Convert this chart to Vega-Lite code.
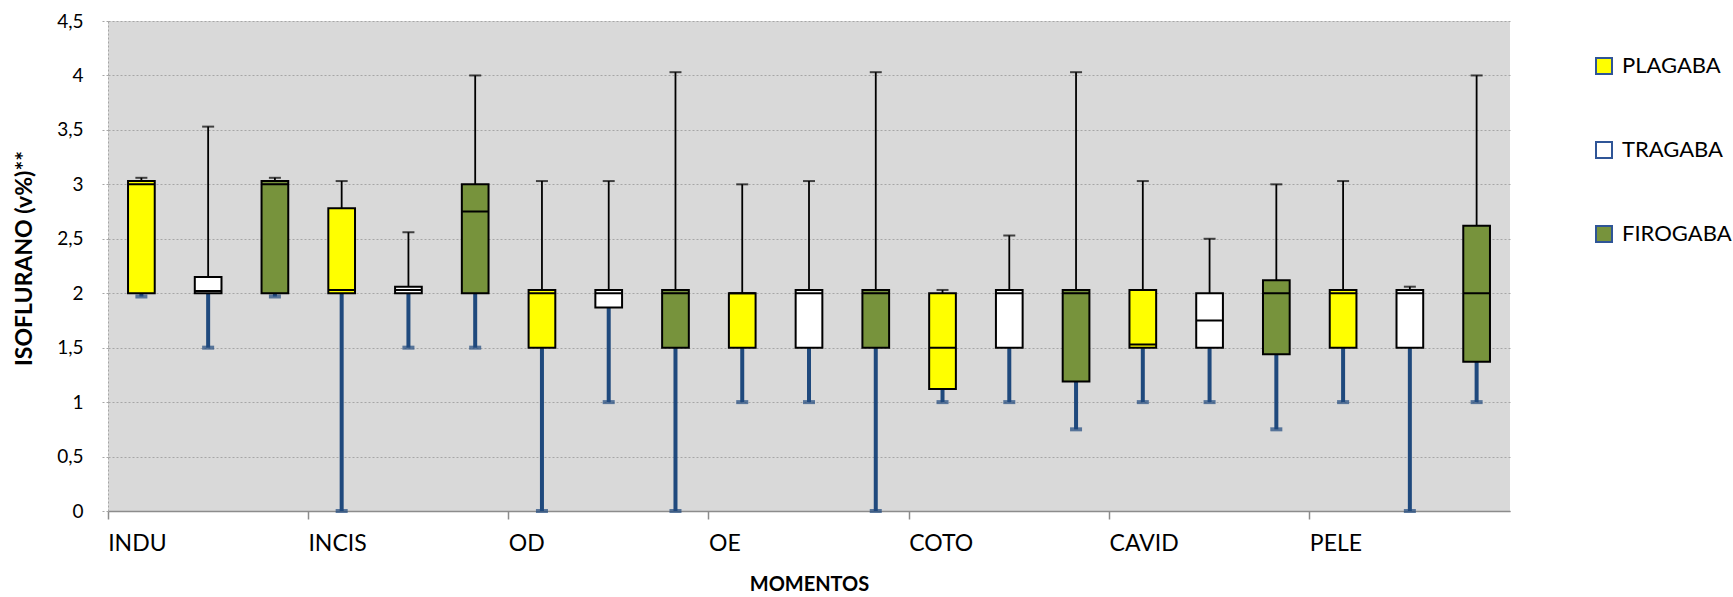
{
  "$schema": "https://vega.github.io/schema/vega-lite/v6.json",
  "width": 1402,
  "height": 490,
  "autosize": {"type": "none"},
  "padding": {"left": 108, "top": 21, "right": 223, "bottom": 86},
  "background": "white",
  "config": {
    "font": "Lato",
    "view": {"fill": "#D9D9D9", "stroke": null},
    "axisY": {
      "titleFont": "Lato",
      "titleFontWeight": "bold",
      "titleFontSize": 23,
      "titleLimit": 1000,
      "titleColor": "#000000",
      "titleX": -84,
      "titleY": 237,
      "titleAngle": -90,
      "titleAlign": "center",
      "titleBaseline": "middle",
      "labelFontSize": 19,
      "labelColor": "#000000",
      "labelPadding": 17,
      "tickSize": 8,
      "tickColor": "#A6A6A6",
      "tickDash": [2, 2],
      "domainColor": "#A6A6A6",
      "domainDash": [2, 2],
      "grid": true,
      "gridColor": "#A6A6A6",
      "gridDash": [2, 2],
      "gridWidth": 1
    },
    "axisX": {
      "titleFont": "Lato",
      "titleFontWeight": "bold",
      "titleFontSize": 20,
      "titleColor": "#000000",
      "titleBaseline": "middle",
      "titleY": 73,
      "labelFontSize": 23,
      "labelColor": "#000000"
    }
  },
  "data": {
    "values": [
      {"moment": "INDU", "group": "PLAGABA", "min": 1.97, "q1": 2.0, "median": 3.0, "q3": 3.03, "max": 3.06},
      {"moment": "INDU", "group": "TRAGABA", "min": 1.5, "q1": 2.0, "median": 2.02, "q3": 2.15, "max": 3.53},
      {"moment": "INDU", "group": "FIROGABA", "min": 1.97, "q1": 2.0, "median": 3.0, "q3": 3.03, "max": 3.06},
      {"moment": "INCIS", "group": "PLAGABA", "min": 0, "q1": 2.0, "median": 2.03, "q3": 2.78, "max": 3.03},
      {"moment": "INCIS", "group": "TRAGABA", "min": 1.5, "q1": 2.0, "median": 2.03, "q3": 2.06, "max": 2.56},
      {"moment": "INCIS", "group": "FIROGABA", "min": 1.5, "q1": 2.0, "median": 2.75, "q3": 3.0, "max": 4.0},
      {"moment": "OD", "group": "PLAGABA", "min": 0, "q1": 1.5, "median": 2.0, "q3": 2.03, "max": 3.03},
      {"moment": "OD", "group": "TRAGABA", "min": 1.0, "q1": 1.87, "median": 2.0, "q3": 2.03, "max": 3.03},
      {"moment": "OD", "group": "FIROGABA", "min": 0, "q1": 1.5, "median": 2.0, "q3": 2.03, "max": 4.03},
      {"moment": "OE", "group": "PLAGABA", "min": 1.0, "q1": 1.5, "median": 2.0, "q3": 2.0, "max": 3.0},
      {"moment": "OE", "group": "TRAGABA", "min": 1.0, "q1": 1.5, "median": 2.0, "q3": 2.03, "max": 3.03},
      {"moment": "OE", "group": "FIROGABA", "min": 0, "q1": 1.5, "median": 2.0, "q3": 2.03, "max": 4.03},
      {"moment": "COTO", "group": "PLAGABA", "min": 1.0, "q1": 1.12, "median": 1.5, "q3": 2.0, "max": 2.03},
      {"moment": "COTO", "group": "TRAGABA", "min": 1.0, "q1": 1.5, "median": 2.0, "q3": 2.03, "max": 2.53},
      {"moment": "COTO", "group": "FIROGABA", "min": 0.75, "q1": 1.19, "median": 2.0, "q3": 2.03, "max": 4.03},
      {"moment": "CAVID", "group": "PLAGABA", "min": 1.0, "q1": 1.5, "median": 1.53, "q3": 2.03, "max": 3.03},
      {"moment": "CAVID", "group": "TRAGABA", "min": 1.0, "q1": 1.5, "median": 1.75, "q3": 2.0, "max": 2.5},
      {"moment": "CAVID", "group": "FIROGABA", "min": 0.75, "q1": 1.44, "median": 2.0, "q3": 2.12, "max": 3.0},
      {"moment": "PELE", "group": "PLAGABA", "min": 1.0, "q1": 1.5, "median": 2.0, "q3": 2.03, "max": 3.03},
      {"moment": "PELE", "group": "TRAGABA", "min": 0, "q1": 1.5, "median": 2.0, "q3": 2.03, "max": 2.06},
      {"moment": "PELE", "group": "FIROGABA", "min": 1.0, "q1": 1.37, "median": 2.0, "q3": 2.62, "max": 4.0}
    ]
  },
  "encoding": {
    "x": {
      "field": "moment",
      "type": "nominal",
      "sort": ["INDU", "INCIS", "OD", "OE", "COTO", "CAVID", "PELE"],
      "scale": {"paddingInner": 0, "paddingOuter": 0},
      "axis": {
        "title": "MOMENTOS",
        "bandPosition": 0,
        "labelAngle": 0,
        "labelAlign": "left",
        "labelBaseline": "top",
        "labelOffset": -100,
        "labelPadding": 13,
        "domainColor": "#8C8C8C",
        "domainWidth": 1.5,
        "tickColor": "#8C8C8C",
        "tickWidth": 1.5,
        "tickSize": 8,
        "grid": false
      }
    },
    "xOffset": {
      "field": "group",
      "type": "nominal",
      "sort": ["PLAGABA", "TRAGABA", "FIROGABA"],
      "scale": {"paddingInner": 0.6, "paddingOuter": 0.3}
    }
  },
  "layer": [
    {
      "mark": {"type": "rule", "color": "#1F497D", "strokeWidth": 4},
      "encoding": {
        "y": {
          "field": "q1",
          "type": "quantitative",
          "title": "ISOFLURANO (v%)**",
          "scale": {"domain": [0, 4.5], "nice": false},
          "axis": {
            "title": "ISOFLURANO (v%)**",
            "values": [0, 0.5, 1, 1.5, 2, 2.5, 3, 3.5, 4, 4.5],
            "labelExpr": "replace(format(datum.value, '.1~f'), '.', ',')"
          }
        },
        "y2": {"field": "min"}
      }
    },
    {
      "mark": {"type": "tick", "color": "#1F497D", "size": 12, "thickness": 4, "orient": "horizontal"},
      "encoding": {
        "y": {"field": "min", "type": "quantitative", "title": "ISOFLURANO (v%)**"}
      }
    },
    {
      "mark": {"type": "rule", "color": "#000000", "strokeWidth": 1.8},
      "encoding": {
        "y": {"field": "q3", "type": "quantitative", "title": "ISOFLURANO (v%)**"},
        "y2": {"field": "max"}
      }
    },
    {
      "mark": {"type": "tick", "color": "#000000", "size": 12, "thickness": 2, "orient": "horizontal"},
      "encoding": {
        "y": {"field": "max", "type": "quantitative", "title": "ISOFLURANO (v%)**"}
      }
    },
    {
      "mark": {"type": "bar", "stroke": "#000000", "strokeWidth": 2},
      "encoding": {
        "y": {"field": "q1", "type": "quantitative", "title": "ISOFLURANO (v%)**"},
        "y2": {"field": "q3"},
        "fill": {
          "field": "group",
          "type": "nominal",
          "sort": ["PLAGABA", "TRAGABA", "FIROGABA"],
          "scale": {"domain": ["PLAGABA", "TRAGABA", "FIROGABA"], "range": ["#FFFF00", "#FFFFFF", "#77933C"]},
          "legend": {
            "title": null,
            "orient": "none",
            "legendX": 1485,
            "legendY": 34,
            "symbolType": "square",
            "symbolSize": 256,
            "symbolStrokeColor": "#2F5597",
            "symbolStrokeWidth": 2,
            "labelFontSize": 22,
            "labelColor": "#000000",
            "labelOffset": 7,
            "rowPadding": 60
          }
        }
      }
    },
    {
      "mark": {"type": "bar", "fill": null, "stroke": "#000000", "strokeWidth": 2},
      "encoding": {
        "y": {"field": "median", "type": "quantitative", "title": "ISOFLURANO (v%)**"},
        "y2": {"field": "median"}
      }
    }
  ]
}
